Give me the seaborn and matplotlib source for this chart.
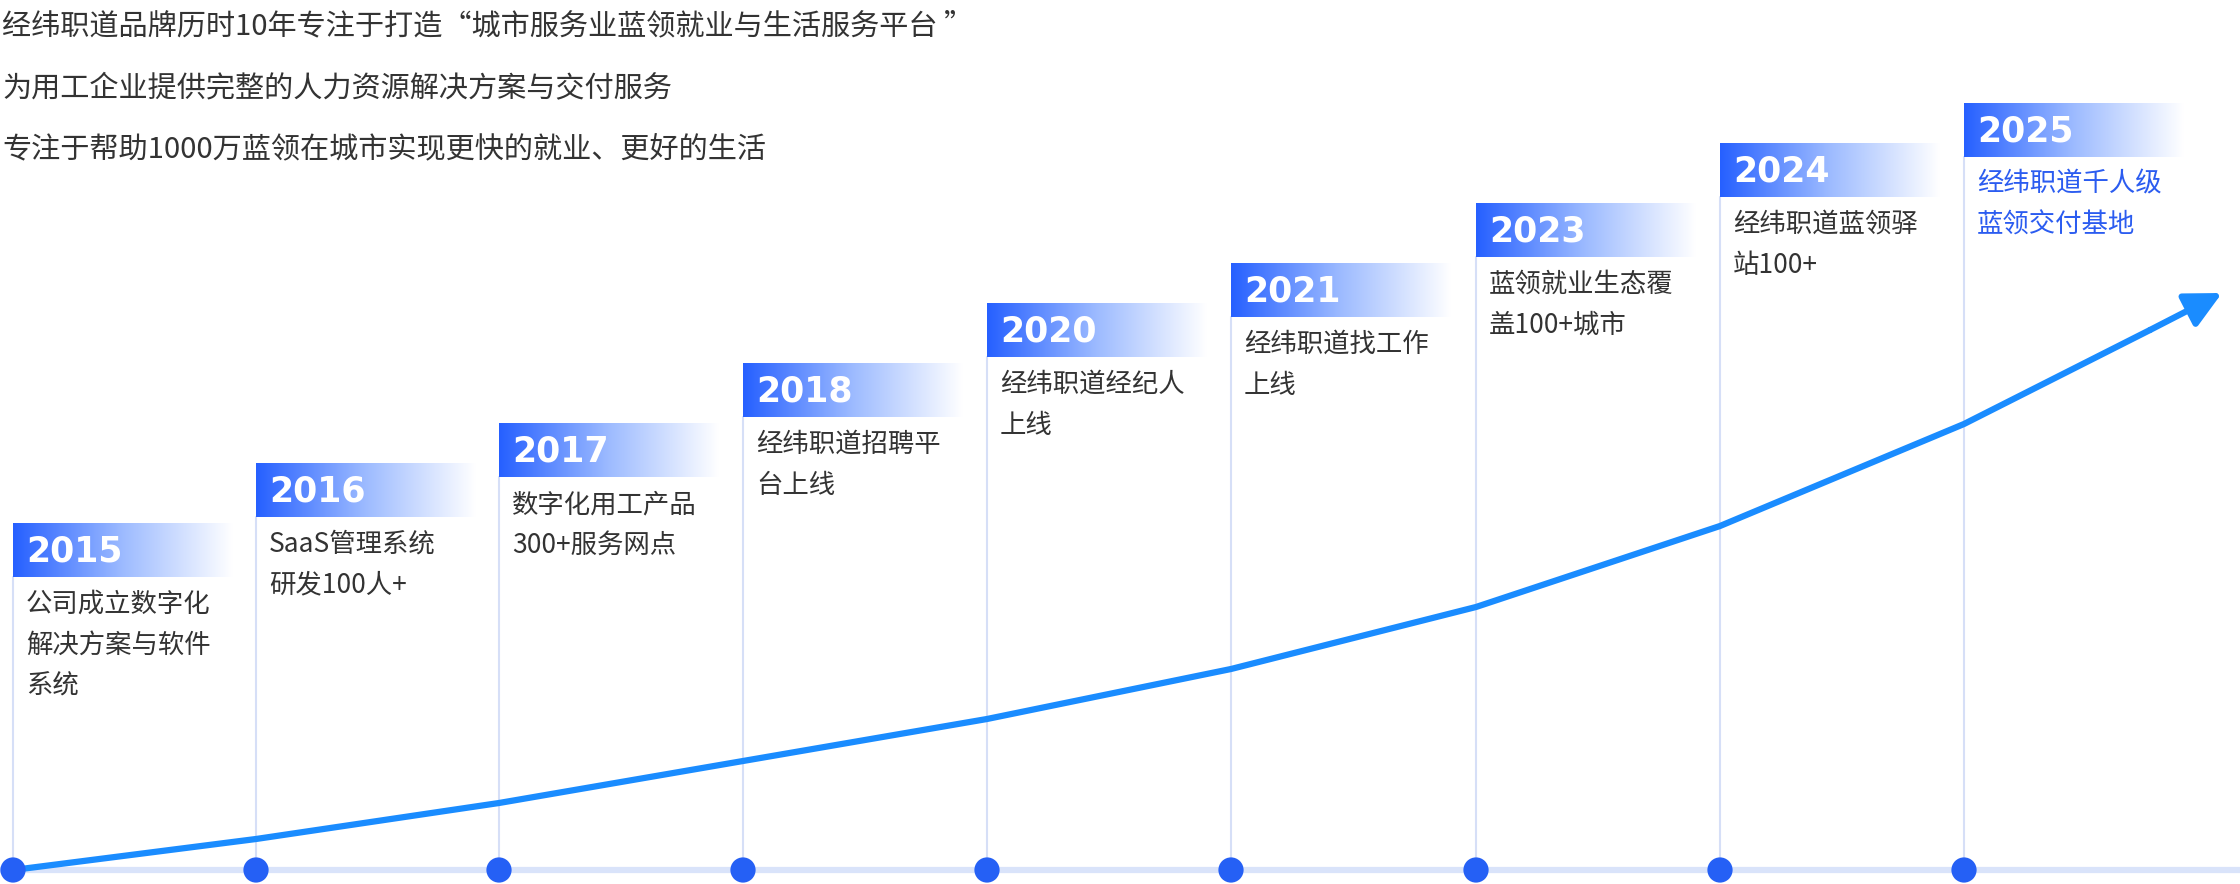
import numpy as np
import pandas as pd
import seaborn as sns
import matplotlib.pyplot as plt
from matplotlib.colors import LinearSegmentedColormap

years = ["2015", "2016", "2017", "2018", "2020", "2021", "2023", "2024", "2025"]
descriptions = [
    "公司成立数字化\n解决方案与软件\n系统",
    "SaaS管理系统\n研发100人+",
    "数字化用工产品\n300+服务网点",
    "经纬职道招聘平\n台上线",
    "经纬职道经纪人\n上线",
    "经纬职道找工作\n上线",
    "蓝领就业生态覆\n盖100+城市",
    "经纬职道蓝领驿\n站100+",
    "经纬职道千人级\n蓝领交付基地",
]
header_top = [523, 463, 423, 363, 303, 263, 203, 143, 103]
# growth curve (pixel space, y downward)
curve_x = [13, 256, 499, 743, 987, 1231, 1476, 1720, 1964, 2150]
curve_y = [870, 839, 803, 761, 719, 669, 607, 526, 424, 330]
intro = [
    "经纬职道品牌历时10年专注于打造“城市服务业蓝领就业与生活服务平台 ”",
    "为用工企业提供完整的人力资源解决方案与交付服务",
    "专注于帮助1000万蓝领在城市实现更快的就业、更好的生活",
]

sns.set_style("white")
plt.rcParams['font.family'] = ['Noto Sans CJK SC', 'DejaVu Sans']

fig = plt.figure(figsize=(22.4, 8.84), dpi=100)
ax = fig.add_axes([0, 0, 1, 1])

dot_x = curve_x[:len(years)]
base_y = 870
ax.plot([0, 2240], [base_y, base_y], color="#D9E3FA", lw=4.5, zorder=1)

grad = np.linspace(0, 1, 256).reshape(1, -1)
cmap = LinearSegmentedColormap.from_list("hdr", ["#2660FF", "#9DBBFF", "#FFFFFF"])
hh, hw = 54, 220
for i, (yr, desc, top) in enumerate(zip(years, descriptions, header_top)):
    x0 = dot_x[i]
    ax.plot([x0, x0], [top + hh, base_y], color="#D6DFF7", lw=1.5, zorder=1)
    ax.imshow(grad, cmap=cmap, extent=(x0, x0 + hw, top + hh, top), aspect="auto", zorder=2)
    ax.text(x0 + 13, top + hh / 2 + 1, yr, color="white", fontsize=25, fontweight="bold",
            va="center", ha="left", family=['DejaVu Sans'], zorder=3)
    col = "#2B5CF0" if i == len(years) - 1 else "#333333"
    ax.text(x0 + 13, top + hh + 14, desc, color=col, fontsize=19, va="top", ha="left",
            linespacing=1.65, zorder=3)

curve = pd.DataFrame({"x": curve_x, "y": curve_y})
sns.lineplot(data=curve, x="x", y="y", ax=ax, color="#1A8CFF", lw=4.5, sort=False, zorder=4)
ax.annotate("", xy=(2222, 293), xytext=(2150, 330),
            arrowprops=dict(arrowstyle="-|>,head_length=2.2,head_width=1.1", color="#1A8CFF", lw=4.5,
                            shrinkA=0, shrinkB=0),
            zorder=4)
dots = pd.DataFrame({"x": dot_x, "y": [base_y] * len(dot_x)})
sns.scatterplot(data=dots, x="x", y="y", ax=ax, s=330, color="#2560F5", edgecolor="none", zorder=5)

for i, line in enumerate(intro):
    ax.text(2, 26 + i * 62, line, fontsize=21, color="#333333", va="center", ha="left")

ax.set_xlim(0, 2240)
ax.set_ylim(884, 0)
ax.axis("off")
fig.savefig("out.png", dpi=100)
